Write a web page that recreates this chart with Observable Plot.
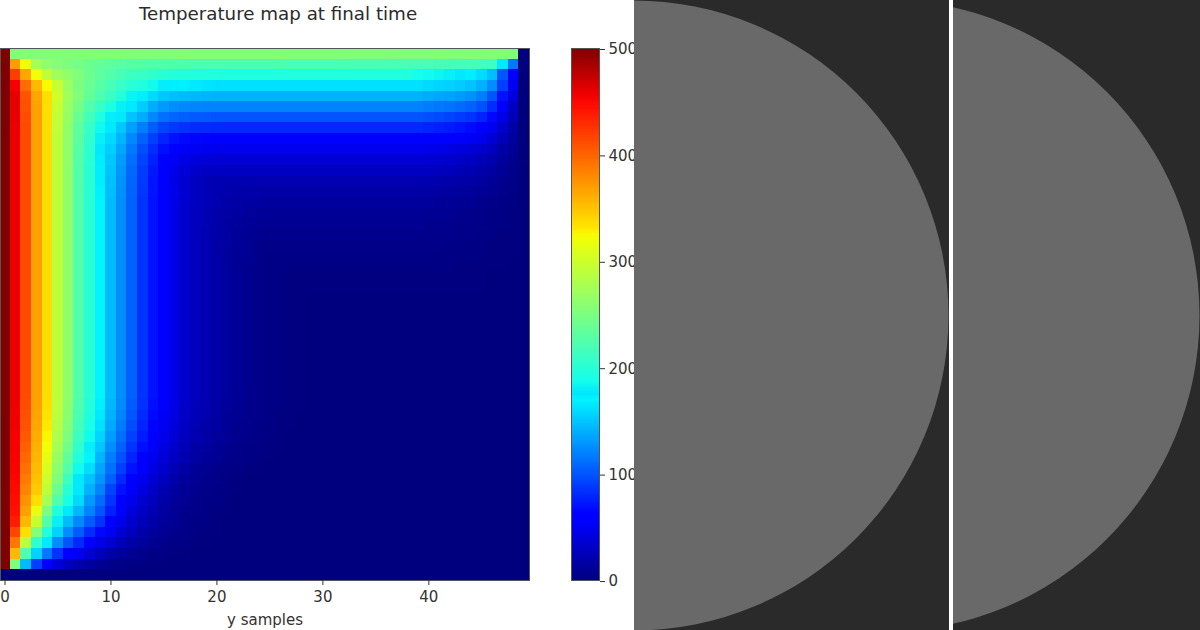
<!DOCTYPE html>
<html>
<head>
<meta charset="utf-8">
<script src="https://cdn.jsdelivr.net/npm/d3@7"></script>
<script src="https://cdn.jsdelivr.net/npm/@observablehq/plot@0.6"></script>
<style>
html,body{margin:0;padding:0;background:#fff;width:1200px;height:630px;overflow:hidden}
#stage{position:relative;width:1200px;height:630px;overflow:hidden;font-family:"DejaVu Sans",sans-serif}
#stage>*{position:absolute}
#title{left:0;width:556px;top:3px;text-align:center;font-size:18.25px;color:#2b2b2b;line-height:22px}
svg{background:transparent !important;max-width:none !important}
</style>
</head>
<body>
<div id="stage"><div id="title">Temperature map at final time</div></div>
<script>
const titleText = "Temperature map at final time";
const xLabel = "y samples";
const xTicks = [0, 10, 20, 30, 40];
const barTicks = [0, 100, 200, 300, 400, 500];

const row00 = [500,254,254,254,254,254,254,254,254,254,254,254,254,254,254,254,254,254,254,254,254,254,254,254,254,254,254,254,254,254,254,254,254,254,254,254,254,254,254,254,254,254,254,254,254,254,254,254,254,0];
const row01 = [500,370,320,275,262,255,250,245,240,235,232,229,227,226,225,224,223,222,222,222,222,222,222,221,221,221,221,220,220,220,220,220,220,219,219,219,219,218,218,218,218,217,217,216,216,215,213,165,115,0];
const row02 = [500,420,365,320,290,272,262,252,240,232,225,218,212,208,204,200,198,197,196,196,195,195,195,195,195,195,195,195,195,195,195,195,195,195,195,195,195,195,195,188,186,183,180,176,172,160,146,100,60,0];
const row03 = [500,455,395,355,325,295,268,250,238,228,218,208,200,195,186,178,172,168,165,163,161,161,161,161,161,161,161,161,161,161,161,161,161,161,161,161,161,161,161,161,158,156,154,152,148,140,125,90,50,0];
const row04 = [500,460,408,365,335,300,272,252,235,222,210,198,182,172,158,150,146,144,142,141,140,140,140,140,140,140,140,140,140,140,140,140,140,140,140,140,140,140,140,140,137,135,133,130,126,118,100,70,40,0];
const row05 = [500,460,410,367,335,295,268,245,225,208,192,180,165,152,138,130,125,122,121,120,120,120,120,120,120,120,120,120,120,120,120,120,120,120,120,120,120,120,120,120,117,115,113,110,106,98,82,56,30,0];
const row06 = [500,460,412,368,336,293,265,238,215,195,178,165,148,138,122,112,107,104,102,101,100,100,100,100,100,100,100,100,100,100,100,100,100,100,100,100,100,100,100,100,97,95,92,89,85,78,65,45,25,0];
const row07 = [500,459,413,368,336,291,263,232,208,185,165,150,132,118,103,92,87,84,82,81,80,80,80,80,80,80,80,80,80,80,80,80,80,80,80,80,80,80,80,80,78,76,74,71,67,61,50,34,18,0];
const row08 = [500,458,413,368,336,290,262,230,205,180,158,142,122,105,90,78,70,66,64,63,62,62,62,62,62,62,62,62,62,62,62,62,62,62,62,62,62,62,62,62,60,58,56,54,51,46,37,25,13,0];
const row09 = [500,458,413,368,336,290,262,228,203,176,153,135,115,97,82,68,58,53,50,49,48,48,48,48,48,48,48,48,48,48,48,48,48,48,48,48,48,48,48,48,46,45,43,41,38,34,27,18,10,0];
const row10 = [500,458,413,368,336,290,262,226,202,173,150,131,111,92,77,62,51,44,40,38,37,37,37,37,37,37,37,37,37,37,37,37,37,37,37,37,37,37,37,37,36,35,33,31,29,25,20,13,7,0];
const row11 = [500,458,413,368,336,290,262,225,201,172,148,128,108,89,73,58,46,38,33,30,29,29,29,29,29,29,29,29,29,29,29,29,29,29,29,29,29,29,29,29,28,27,26,24,22,19,15,10,5,0];
const row12 = [500,458,413,368,336,290,262,225,201,172,147,127,107,87,71,56,44,35,28,24,22,22,22,22,22,22,22,22,22,22,22,22,22,22,22,22,22,22,22,22,21,20,19,18,16,14,11,7,4,0];
const row13 = [500,458,413,368,336,290,262,225,200,171,146,126,106,86,71,56,46,35,29,25,21,20,19,18,18,17,17,17,17,17,17,17,17,17,17,17,17,17,17,17,16,15,14,13,12,10,8,5,3,0];
const row14 = [500,458,413,368,336,290,262,225,200,170,145,125,105,85,70,55,45,34,28,24,20,17,16,15,14,13,13,13,13,13,13,13,13,13,13,13,13,13,13,13,12,11,10,9,8,6,4,3,2,0];
const row15 = [500,458,413,368,336,290,262,225,200,170,145,125,105,85,70,55,45,33,27,23,19,16,14,12,11,10,10,10,10,10,10,10,10,10,10,10,10,10,10,10,9,9,8,7,6,5,3,2,1,0];
const row16 = [500,458,413,368,336,290,262,225,200,170,145,125,105,85,70,55,45,33,27,23,18,15,12,10,9,8,8,8,8,8,8,8,8,8,8,8,8,8,8,8,7,7,6,5,5,4,3,2,1,0];
const row17 = [500,458,413,368,336,290,262,225,200,170,145,125,105,85,70,55,45,33,27,22,18,14,11,9,7,6,6,6,6,6,6,6,6,6,6,6,6,6,6,6,6,5,5,4,4,3,2,1,1,0];
const row18 = [500,458,413,368,336,290,262,225,200,170,145,125,105,85,70,55,45,33,27,22,17,14,11,8,6,4,4,4,4,4,4,4,4,4,4,4,4,4,4,4,4,4,3,3,2,2,1,1,1,0];
const row19 = [500,458,413,368,336,290,262,225,200,170,145,125,105,85,70,55,45,33,27,22,17,13,10,8,6,3,3,3,3,3,3,3,3,3,3,3,3,3,3,3,3,3,2,2,2,1,1,1,1,0];
const row20 = [500,458,413,368,336,290,262,225,200,170,145,125,105,85,70,55,45,33,27,22,17,13,10,7,5,3,2,2,2,2,2,2,2,2,2,2,2,2,2,2,2,2,2,1,1,1,1,1,0,0];
const row21 = [500,458,413,368,336,290,262,225,200,170,145,125,105,85,70,55,45,33,27,22,17,13,10,7,5,3,2,1,1,1,1,1,1,1,1,1,1,1,1,1,1,1,1,1,1,1];
const midRow = [500,458,413,368,336,290,262,225,200,170,145,125,105,85,70,55,45,33,27,22,17,13,10,7,5,3,2,1,1];
const row33 = [500,458,412,367,335,289,260,223,198,168,143,123,103,84,68,54,44,32,26,21,16,12,9,6,4,3,2,1,1];
const row34 = [500,457,410,366,333,287,258,220,195,165,140,120,100,81,66,52,42,31,25,20,15,11,8,6,4,2,1,1];
const row35 = [500,456,408,364,330,284,255,216,191,161,136,116,96,78,63,50,40,29,23,18,14,10,7,5,3,2,1,1];
const row36 = [500,455,405,362,326,280,250,211,186,156,131,111,91,74,59,47,37,27,21,16,12,9,6,4,3,2,1];
const row37 = [500,454,401,359,321,274,243,204,179,150,125,105,85,68,54,43,33,24,18,14,10,7,5,3,2,1,1];
const row38 = [500,453,397,356,313,267,234,196,170,142,118,98,78,62,49,38,29,21,15,11,8,6,4,2,1,1];
const row39 = [500,452,393,353,305,260,224,186,160,135,112,90,70,55,43,33,24,16,11,8,5,3,2,1,1];
const row40 = [500,450,388,350,298,252,212,174,148,128,104,80,62,48,37,27,19,13,9,6,4,2,1];
const row41 = [500,448,382,345,290,240,200,165,140,120,92,70,54,41,31,22,15,10,7,4,3,1,1];
const row42 = [500,445,375,335,275,225,190,158,130,110,85,62,47,35,26,18,12,8,5,3,2,1];
const row43 = [500,443,368,315,250,195,165,143,120,100,76,54,40,30,22,15,10,6,4,2,1,1];
const row44 = [500,437,355,295,225,180,145,122,103,85,62,46,34,25,18,12,8,5,3,2,1];
const row45 = [500,415,335,255,195,155,125,103,82,65,50,37,27,19,13,9,6,4,2,1,1];
const row46 = [500,390,290,205,165,125,100,80,60,45,35,25,18,12,8,5,3,2,1,1];
const row47 = [500,355,225,155,115,85,62,50,38,26,18,12,8,5,3,2,1,1];
const row48 = [500,250,145,90,55,40,28,20,14,10,6,4,3,2,1,1];
const row49 = [0];

const temperatureRows = [row00,row01,row02,row03,row04,row05,row06,row07,row08,row09,row10,row11,row12,row13,row14,row15,row16,row17,row18,row19,row20,row21,row21,midRow,midRow,midRow,midRow,midRow,midRow,midRow,midRow,midRow,midRow,row33,row34,row35,row36,row37,row38,row39,row40,row41,row42,row43,row44,row45,row46,row47,row48,row49];
const columnCount = 50;

// matplotlib "jet" stops
const jetStops = [0, .11, .125, .34, .35, .375, .64, .65, .66, .89, .91, 1];
const jetColors = ["#00007f","#0000ff","#0000ff","#00f5ff","#00e6ff","#14ffeb","#f0ff07","#f9fa00","#ffe800","#ff0d00","#f40000","#7f0000"];
const tempMax = 500;
const jet = {type: "linear", domain: jetStops.map(s => s * tempMax), range: jetColors, clamp: true};

const textColor = "#333";
const fontStyle = {fontFamily: "'DejaVu Sans', sans-serif", fontSize: "15px", background: "transparent", color: textColor};

const cells = temperatureRows.flatMap((row, r) =>
  d3.range(columnCount).map(c => ({r, c, v: row[c] ?? 0})));

const heat = Plot.plot({
  width: 560, height: 630,
  marginLeft: 0, marginRight: 31, marginTop: 48, marginBottom: 50,
  style: fontStyle,
  x: {domain: [-0.425, 49.5]},
  y: {domain: [-0.5, 49.5], reverse: true, axis: null},
  color: jet,
  marks: [
    Plot.rect(cells, {x1: d => d.c - 0.5, x2: d => d.c + 0.5, y1: d => d.r - 0.5, y2: d => d.r + 0.5, fill: "v", shapeRendering: "crispEdges"}),
    Plot.frame({stroke: "#555", strokeWidth: 1}),
    Plot.axisX({anchor: "bottom", ticks: xTicks, tickSize: 5, tickPadding: 6, label: xLabel, labelAnchor: "center", labelArrow: "none", labelOffset: 44, stroke: textColor, fill: textColor})
  ]
});
heat.style.left = "0";
heat.style.top = "0";
document.getElementById("stage").appendChild(heat);

const barLevels = d3.range(0, tempMax, 2);
const bar = Plot.plot({
  width: 74, height: 630,
  marginLeft: 11, marginRight: 35, marginTop: 48, marginBottom: 50,
  style: fontStyle,
  x: {domain: [0, 1], axis: null},
  y: {domain: [0, tempMax], axis: null},
  color: jet,
  marks: [
    Plot.rect(barLevels, {x1: 0, x2: 1, y1: d => d, y2: d => d + 2, fill: d => d + 1, shapeRendering: "crispEdges"}),
    Plot.frame({stroke: "#555", strokeWidth: 1}),
    Plot.axisY({anchor: "right", ticks: barTicks, tickSize: 5, tickPadding: 4, dy: 1, label: null, textAnchor: "start", stroke: textColor, fill: textColor})
  ]
});
bar.style.left = "560px";
bar.style.top = "0";
document.getElementById("stage").appendChild(bar);

const panelDark = "#2a2a2a";
const panelDisc = "#696969";
const panelA = {left: 634, width: 315, cx: -1, r: 315};
const panelB = {left: 953, width: 247, cx: -70, r: 316};
for (const p of [panelA, panelB]) {
  const svg = Plot.plot({
    width: p.width, height: 630,
    marginLeft: 0, marginRight: 0, marginTop: 0, marginBottom: 0,
    style: {background: panelDark},
    x: {domain: [0, p.width], axis: null},
    y: {domain: [0, 630], axis: null},
    marks: [
      Plot.dot([p], {x: "cx", y: () => 315, r: p.r, fill: panelDisc, stroke: "none"})
    ]
  });
  svg.style.left = p.left + "px";
  svg.style.top = "0";
  svg.style.setProperty("background", panelDark, "important");
  document.getElementById("stage").appendChild(svg);
}
document.getElementById("title").textContent = titleText;
</script>
</body>
</html>
